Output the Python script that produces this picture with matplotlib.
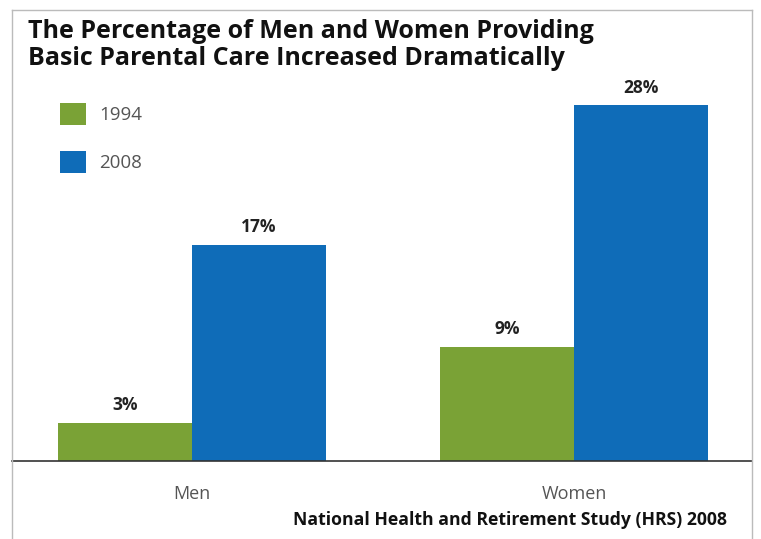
import matplotlib.pyplot as plt
from matplotlib.patches import Patch
from matplotlib.lines import Line2D

plt.rcParams['font.family'] = ['Open Sans', 'DejaVu Sans']

# data
groups = ['Men', 'Women']
years = ['1994', '2008']
pct_1994 = [3, 9]
pct_2008 = [17, 28]
colors = ['#7aa236', '#0f6cb8']

W, H = 761, 539
fig = plt.figure(figsize=(W / 100, H / 100), dpi=100)

# axes placed in pixel terms: frame top y=10, baseline y=461
left, right, top, base = 12, 752, 10, 461
ax = fig.add_axes([left / W, (H - base) / H, (right - left) / W, (base - top) / H])

x = [0, 1]
width = 0.351
b1 = ax.bar([i - width / 2 for i in x], pct_1994, width, color=colors[0])
b2 = ax.bar([i + width / 2 for i in x], pct_2008, width, color=colors[1])

ax.set_xlim(-0.471, 1.466)
ax.set_ylim(0, 28 * (base - top) / (base - 105))

for bars, vals in [(b1, pct_1994), (b2, pct_2008)]:
    for b, v in zip(bars, vals):
        ax.annotate(f'{v}%', (b.get_x() + b.get_width() / 2, v),
                    xytext=(0, 12.5), textcoords='offset points',
                    ha='center', va='center', fontsize=12.5, fontweight='bold',
                    color='#222222')

ax.set_xticks(x)
ax.set_xticklabels(groups, fontsize=13, color='#555555')
ax.tick_params(axis='x', length=0, pad=17)
ax.set_yticks([])
for s in ['left', 'right', 'top']:
    ax.spines[s].set_visible(False)
ax.spines['bottom'].set_color('#333333')
ax.spines['bottom'].set_linewidth(1.2)

# outer light frame, runs past the bottom of the image
fx = lambda px: px / W
fy = lambda py: 1 - py / H
frame = '#bbbbbb'
fig.add_artist(Line2D([fx(left), fx(right)], [fy(top), fy(top)], color=frame, lw=1))
fig.add_artist(Line2D([fx(left), fx(left)], [fy(top), 0], color=frame, lw=1))
fig.add_artist(Line2D([fx(right), fx(right)], [fy(top), 0], color=frame, lw=1))

fig.text(fx(28), fy(45), 'The Percentage of Men and Women Providing\nBasic Parental Care Increased Dramatically',
         fontsize=18, fontweight='bold', color='#111111', ha='left', va='center',
         linespacing=1.15)

handles = [Patch(facecolor=c, edgecolor='none') for c in colors]
leg = fig.legend(handles, years, loc='upper left', bbox_to_anchor=(fx(60), fy(103)),
                 frameon=False, fontsize=13.5, handlelength=1.4, handleheight=1.4,
                 handletextpad=0.7, labelspacing=1.4, borderpad=0, borderaxespad=0)
for t in leg.get_texts():
    t.set_color('#555555')

fig.text(fx(727), fy(520), 'National Health and Retirement Study (HRS) 2008',
         fontsize=12.7, fontweight='bold', color='#111111', ha='right', va='center')

fig.savefig('out.png', dpi=100)
